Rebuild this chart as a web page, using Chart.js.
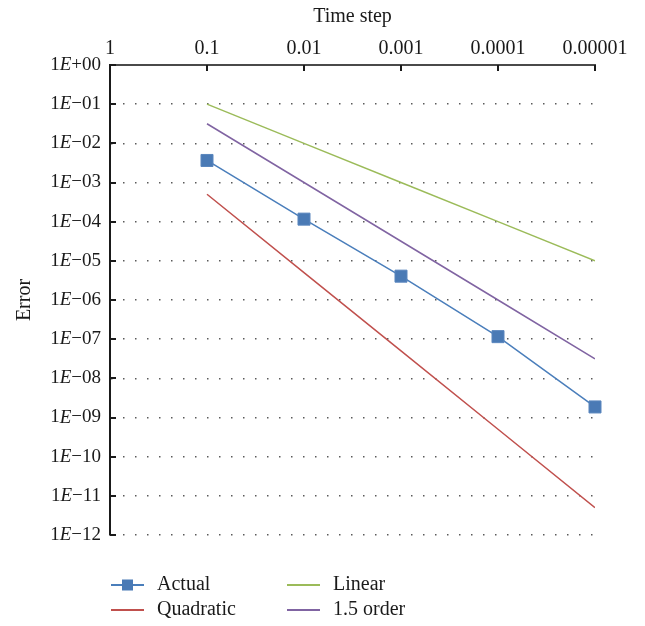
<!DOCTYPE html>
<html>
<head>
<meta charset="utf-8">
<script src="https://cdn.jsdelivr.net/npm/chart.js@4.4.1/dist/chart.umd.min.js"></script>
<style>
  html, body { margin: 0; padding: 0; background: #ffffff; }
  canvas { display: block; }
</style>
</head>
<body>
<canvas id="c" width="645" height="626"></canvas>
<script>
// ---- data ----
const timeSteps = [0.1, 0.01, 0.001, 0.0001, 0.00001];
const actual    = [3.65e-3, 1.16e-4, 4.06e-6, 1.16e-7, 1.86e-9];
const quadratic = [5e-4, 5e-6, 5e-8, 5e-10, 5e-12];
const linear    = [1e-1, 1e-2, 1e-3, 1e-4, 1e-5];
const order15   = [3.16e-2, 1e-3, 3.16e-5, 1e-6, 3.16e-8];
const xTickValues = [1, 0.1, 0.01, 0.001, 0.0001, 0.00001];
const xTickLabels = ['1', '0.1', '0.01', '0.001', '0.0001', '0.00001'];
const yTickExponents = [0, -1, -2, -3, -4, -5, -6, -7, -8, -9, -10, -11, -12];
const legendOrder = ['Actual', 'Linear', 'Quadratic', '1.5 order'];

const SERIF = '"Liberation Serif", "DejaVu Serif", serif';
const pts = arr => timeSteps.map((t, i) => ({ x: t, y: arr[i] }));

const overlay = {
  id: 'overlay',
  afterDraw(chart) {
    const ctx = chart.ctx;
    const xs = chart.scales.x, ys = chart.scales.y;
    const area = chart.chartArea;
    ctx.save();
    // inward tick marks
    ctx.strokeStyle = '#1a1a1a';
    ctx.lineWidth = 2;
    ctx.beginPath();
    xTickValues.forEach(v => {
      const px = Math.round(xs.getPixelForValue(v));
      ctx.moveTo(px, area.top);
      ctx.lineTo(px, area.top + 6);
    });
    yTickExponents.forEach(e => {
      const py = Math.round(ys.getPixelForValue(Math.pow(10, e)));
      ctx.moveTo(area.left, py);
      ctx.lineTo(area.left + 6, py);
    });
    ctx.stroke();

    // y tick labels with italic E
    ctx.fillStyle = '#1a1a1a';
    ctx.textBaseline = 'middle';
    ctx.textAlign = 'left';
    const normal = '19px ' + SERIF;
    const italic = 'italic 19px ' + SERIF;
    yTickExponents.forEach(e => {
      const py = ys.getPixelForValue(Math.pow(10, e));
      const rest = (e >= 0 ? '+' : '\u2212') + String(Math.abs(e)).padStart(2, '0');
      ctx.font = normal;
      const w1 = ctx.measureText('1').width;
      const w3 = ctx.measureText(rest).width;
      ctx.font = italic;
      const w2 = ctx.measureText('E').width;
      let x = area.left - 9 - (w1 + w2 + w3);
      ctx.font = normal; ctx.fillText('1', x, py); x += w1;
      ctx.font = italic; ctx.fillText('E', x, py); x += w2;
      ctx.font = normal; ctx.fillText(rest, x, py);
    });

    // legend (2 x 2)
    const slots = [
      { x: 111, y: 585 }, { x: 287, y: 585 },
      { x: 111, y: 610 }, { x: 287, y: 610 }
    ];
    ctx.font = '20px ' + SERIF;
    legendOrder.forEach((name, i) => {
      const ds = chart.data.datasets.find(d => d.label === name);
      const s = slots[i];
      ctx.strokeStyle = ds.borderColor;
      ctx.lineWidth = 2;
      ctx.beginPath();
      ctx.moveTo(s.x, s.y);
      ctx.lineTo(s.x + 33, s.y);
      ctx.stroke();
      if (ds.pointRadius > 0) {
        ctx.fillStyle = ds.pointBackgroundColor;
        ctx.fillRect(s.x + 11, s.y - 5.5, 11, 11);
      }
      ctx.fillStyle = '#1a1a1a';
      ctx.textBaseline = 'middle';
      ctx.fillText(name, s.x + 46, s.y);
    });
    ctx.restore();
  }
};

new Chart(document.getElementById('c'), {
  type: 'line',
  data: {
    datasets: [
      { label: 'Quadratic', data: pts(quadratic), borderColor: '#C0504D', borderWidth: 1.5, pointRadius: 0 },
      { label: 'Linear', data: pts(linear), borderColor: '#9BBB59', borderWidth: 1.5, pointRadius: 0 },
      { label: '1.5 order', data: pts(order15), borderColor: '#8064A2', borderWidth: 1.5, pointRadius: 0 },
      { label: 'Actual', data: pts(actual), borderColor: '#4A7EBB', borderWidth: 1.5, clip: false,
        pointStyle: 'rect', pointRadius: 8.5, pointBackgroundColor: '#4A7AB5',
        pointBorderColor: '#5A86BE', pointBorderWidth: 1 }
    ]
  },
  options: {
    responsive: false,
    animation: false,
    layout: { padding: { left: 0, top: 0, right: 50, bottom: 91 } },
    plugins: { legend: { display: false }, tooltip: { enabled: false } },
    scales: {
      x: {
        type: 'logarithmic',
        position: 'top',
        reverse: true,
        min: 0.00001,
        max: 1,
        afterBuildTicks: s => { s.ticks = xTickValues.map(v => ({ value: v })); },
        afterFit: s => { s.height = 65; s.paddingLeft = 0; s.paddingRight = 0; },
        grid: { display: false, drawTicks: false },
        border: { display: true, color: '#4a4a4a', width: 2 },
        ticks: {
          autoSkip: false,
          maxRotation: 0,
          padding: 4,
          color: '#1a1a1a',
          font: { family: SERIF, size: 20 },
          callback: v => {
            const i = xTickValues.findIndex(t => Math.abs(Math.log10(t) - Math.log10(v)) < 1e-6);
            return i >= 0 ? xTickLabels[i] : '';
          }
        },
        title: { display: true, text: 'Time step', color: '#1a1a1a',
                 font: { family: SERIF, size: 20 }, padding: { top: 5, bottom: 0 } }
      },
      y: {
        type: 'logarithmic',
        position: 'left',
        min: 1e-12,
        max: 1,
        afterBuildTicks: s => { s.ticks = yTickExponents.map(e => ({ value: Math.pow(10, e) })); },
        afterFit: s => { s.width = 110; s.paddingTop = 0; s.paddingBottom = 0; },
        grid: { display: true, drawTicks: false, color: '#5a5a5a', lineWidth: 1.5 },
        border: { display: true, color: '#1a1a1a', width: 2, dash: [1.5, 10.5] },
        ticks: { display: false },
        title: { display: true, text: 'Error', color: '#1a1a1a',
                 font: { family: SERIF, size: 20 }, padding: { top: 13, bottom: 0 } }
      }
    }
  },
  plugins: [overlay]
});
</script>
</body>
</html>
